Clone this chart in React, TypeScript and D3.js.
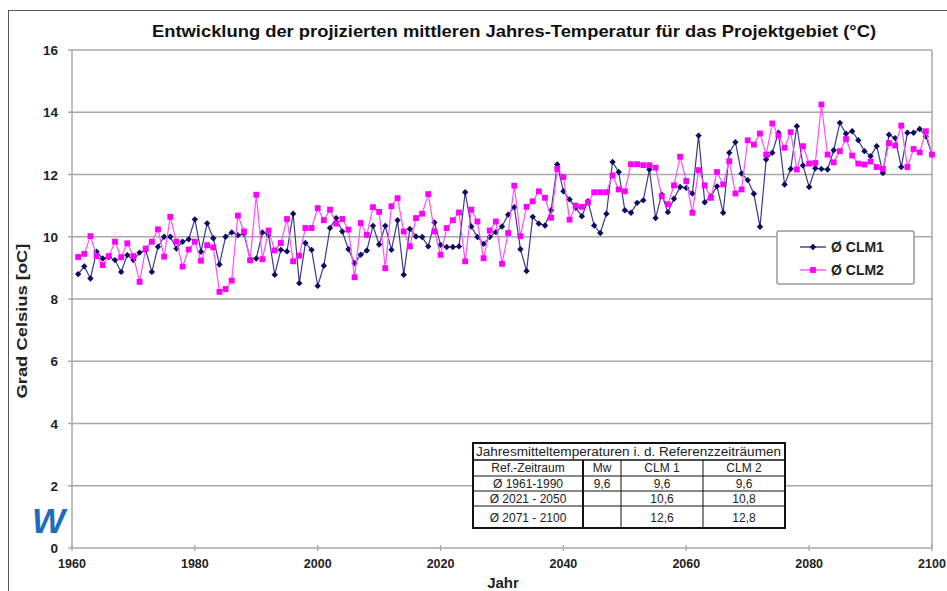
import React from 'react';
import * as d3 from 'd3';

const W = 947;
const H = 591;

const chartTitle = 'Entwicklung der projizierten mittleren Jahres-Temperatur für das Projektgebiet (°C)';
const yTitle = 'Grad Celsius [oC]';
const xTitle = 'Jahr';
const firstYear = 1961;

const clm1: number[] = [
  8.8, 9.05, 8.66, 9.52, 9.3, 9.35, 9.25, 8.87, 9.41, 9.25,
  9.49, 9.57, 8.87, 9.68, 10.0, 10.0, 9.62, 9.84, 9.92, 10.56,
  9.52, 10.43, 9.95, 9.11, 10.0, 10.14, 10.05, 10.1, 9.28, 9.3,
  10.14, 10.06, 8.78, 9.58, 9.53, 10.74, 8.51, 9.8, 9.58, 8.42,
  9.07, 10.28, 10.6, 10.17, 9.6, 9.15, 9.42, 9.56, 10.35, 9.75,
  10.35, 9.58, 10.53, 8.78, 10.25, 10.01, 9.99, 9.69, 10.46, 9.74,
  9.67, 9.67, 9.69, 11.43, 10.33, 9.99, 9.77, 9.99, 10.15, 10.33,
  10.71, 10.95, 9.6, 8.9, 10.64, 10.42, 10.36, 10.85, 12.32, 11.46,
  11.2, 10.93, 10.66, 11.14, 10.36, 10.12, 10.74, 12.4, 12.08, 10.85,
  10.77, 11.09, 11.17, 12.16, 10.6, 11.36, 10.79, 11.22, 11.6, 11.57,
  11.39, 13.25, 11.11, 11.3, 11.62, 10.77, 12.7, 13.04, 12.03, 11.82,
  11.38, 10.32, 12.48, 12.7, 13.34, 11.68, 12.18, 13.55, 12.29, 11.6,
  12.2, 12.18, 12.16, 12.78, 13.66, 13.31, 13.39, 13.1, 12.75, 12.59,
  12.91, 12.05, 13.28, 13.17, 12.24, 13.34, 13.34, 13.46, 13.23, 12.64,
];

const clm2: number[] = [
  9.35, 9.45, 10.02, 9.38, 9.09, 9.38, 9.84, 9.34, 9.79, 9.38,
  8.55, 9.62, 9.84, 10.24, 9.36, 10.64, 9.84, 9.04, 9.59, 9.84,
  9.23, 9.73, 9.66, 8.23, 8.32, 8.59, 10.68, 10.17, 9.24, 11.35,
  9.28, 10.2, 9.56, 9.8, 10.57, 9.21, 9.39, 10.28, 10.28, 10.92,
  10.53, 10.87, 10.42, 10.57, 10.23, 8.7, 10.44, 10.06, 10.95, 10.8,
  8.99, 10.98, 11.24, 10.17, 9.69, 10.6, 10.74, 11.37, 10.17, 9.42,
  10.28, 10.53, 10.78, 9.21, 10.87, 10.49, 9.31, 10.2, 10.49, 9.13,
  10.12, 11.64, 10.02, 10.96, 11.14, 11.46, 11.25, 10.61, 12.18, 11.92,
  10.55, 11.0, 10.96, 11.1, 11.43, 11.43, 11.43, 11.97, 11.52, 11.46,
  12.33, 12.33, 12.3, 12.3, 12.22, 11.3, 11.04, 11.65, 12.57, 11.79,
  10.77, 12.14, 11.65, 11.25, 12.08, 11.68, 12.43, 11.39, 11.52, 13.1,
  12.96, 13.32, 12.64, 13.64, 13.25, 12.86, 13.36, 12.16, 12.91, 12.35,
  12.37, 14.25, 12.64, 12.39, 12.75, 13.14, 12.61, 12.35, 12.32, 12.42,
  12.24, 12.18, 13.01, 12.93, 13.57, 12.24, 12.82, 12.71, 13.39, 12.64,
];

const seriesNames = ['Ø CLM1', 'Ø CLM2'];
const yTicks = [0, 2, 4, 6, 8, 10, 12, 14, 16];
const xTicks = [1960, 1980, 2000, 2020, 2040, 2060, 2080, 2100];

const tableHeader = 'Jahresmitteltemperaturen i. d. Referenzzeiträumen';
const tableCols = ['Ref.-Zeitraum', 'Mw', 'CLM 1', 'CLM 2'];
const tableRows = [
  ['Ø 1961-1990', '9,6', '9,6', '9,6'],
  ['Ø 2021 - 2050', '', '10,6', '10,8'],
  ['Ø 2071 - 2100', '', '12,6', '12,8'],
];

const FONT = 'Liberation Sans, Arial, Helvetica, sans-serif';
const NAVY = '#0c0c60';
const NAVY_LINE = '#3a3a88';
const MAG = '#ff00ff';
const MAG_LINE = '#ff4dff';
const GRID = '#a8a8a8';

export default function App() {
  const x = d3.scaleLinear().domain([1960, 2100]).range([72, 932]);
  const y = d3.scaleLinear().domain([0, 16]).range([548, 50]);

  const toPts = (arr: number[]) => arr.map((v, i) => [firstYear + i, v] as [number, number]);
  const line = d3.line<[number, number]>().x((d) => x(d[0])).y((d) => y(d[1]));
  const diamond = d3.symbol().type(d3.symbolDiamond2).size(26)() as string;
  const square = d3.symbol().type(d3.symbolSquare).size(34)() as string;

  const p1 = toPts(clm1);
  const p2 = toPts(clm2);

  const colX = [473, 583, 621, 703, 785];
  const rowY = [443, 460, 476, 491, 506, 528];

  return (
    <svg width={W} height={H} style={{ position: 'absolute', left: 0, top: 0, background: '#fff' }} fontFamily={FONT}>
      <rect x={0} y={0} width={W} height={H} fill="#fff" />
      <rect x={8.5} y={10.5} width={W + 10} height={H + 10} fill="none" stroke="#555" strokeWidth={1} />

      <text x={514} y={37} textAnchor="middle" fontSize={17} fontWeight="bold" fill="#111" textLength={724} lengthAdjust="spacingAndGlyphs">{chartTitle}</text>

      {/* grid */}
      {yTicks.map((t) => (
        <g key={'gy' + t}>
          <line x1={x(1960) - 4} x2={x(2100)} y1={y(t)} y2={y(t)} stroke={GRID} strokeWidth={1.3} />
          <text x={58} y={y(t) + 5} textAnchor="end" fontSize={13.5} fontWeight="bold" fill="#222">{t}</text>
        </g>
      ))}
      <line x1={x(1960)} x2={x(1960)} y1={y(16)} y2={y(0)} stroke={GRID} strokeWidth={1.5} />
      <line x1={x(2100)} x2={x(2100)} y1={y(16)} y2={y(0)} stroke={GRID} strokeWidth={1.5} />
      {xTicks.map((t) => (
        <g key={'gx' + t}>
          <line x1={x(t)} x2={x(t)} y1={y(0) - 3} y2={y(0) + 3} stroke={GRID} strokeWidth={1.3} />
          <text x={x(t)} y={y(0) + 20} textAnchor="middle" fontSize={12.5} fontWeight="bold" fill="#222">{t}</text>
        </g>
      ))}

      <text transform={`translate(27,${321}) rotate(-90)`} textAnchor="middle" fontSize={15.5} fontWeight="bold" fill="#222" textLength={155} lengthAdjust="spacingAndGlyphs">{yTitle}</text>
      <text x={503} y={588} textAnchor="middle" fontSize={15} fontWeight="bold" fill="#222">{xTitle}</text>

      {/* logo */}
      <text x={32} y={533} fontSize={35} fontWeight="bold" fontStyle="italic" fill="#1d6db8">W</text>

      {/* table */}
      <g fontSize={12} fill="#222">
        <rect x={colX[0]} y={rowY[0]} width={colX[4] - colX[0]} height={rowY[5] - rowY[0]} fill="#fff" stroke="#111" strokeWidth={2} />
        {rowY.slice(1, 5).map((ry, i) => (
          <line key={'tr' + i} x1={colX[0]} x2={colX[4]} y1={ry} y2={ry} stroke="#111" strokeWidth={i === 0 ? 1.5 : 1} />
        ))}
        {colX.slice(1, 4).map((cx, i) => (
          <line key={'tc' + i} x1={cx} x2={cx} y1={rowY[1]} y2={rowY[5]} stroke="#111" strokeWidth={i === 0 ? 2 : 1} />
        ))}
        <text x={colX[0] + 3} y={rowY[0] + 12.5} fontSize={12} fill="#222" textLength={305} lengthAdjust="spacingAndGlyphs">{tableHeader}</text>
        {tableCols.map((c, j) => (
          <text key={'th' + j} x={(colX[j] + colX[j + 1]) / 2} y={rowY[1] + 12} textAnchor="middle">{c}</text>
        ))}
        {tableRows.map((r, i) =>
          r.map((c, j) => (
            <text key={'td' + i + j} x={(colX[j] + colX[j + 1]) / 2} y={(rowY[i + 2] + rowY[i + 3]) / 2 + 4.5} textAnchor="middle">{c}</text>
          ))
        )}
      </g>

      {/* series */}
      <path d={line(p1) as string} fill="none" stroke={NAVY_LINE} strokeWidth={1.2} />
      {p1.map((d, i) => (
        <path key={'m1' + i} d={diamond} transform={`translate(${x(d[0])},${y(d[1])})`} fill={NAVY} />
      ))}
      <path d={line(p2) as string} fill="none" stroke={MAG_LINE} strokeWidth={1.2} />
      {p2.map((d, i) => (
        <path key={'m2' + i} d={square} transform={`translate(${x(d[0])},${y(d[1])})`} fill={MAG} />
      ))}

      {/* legend */}
      <g>
        <rect x={777} y={231} width={137} height={53} fill="#fff" stroke="#9a9a9a" strokeWidth={1.5} rx={2} />
        <line x1={800} x2={826} y1={247} y2={247} stroke={NAVY_LINE} strokeWidth={1.4} />
        <path d={diamond} transform="translate(813,247)" fill={NAVY} />
        <text x={831} y={252} fontSize={14} fontWeight="bold" fill="#222">{seriesNames[0]}</text>
        <line x1={800} x2={826} y1={270} y2={270} stroke={MAG_LINE} strokeWidth={1.4} />
        <path d={square} transform="translate(813,270)" fill={MAG} />
        <text x={831} y={275} fontSize={14} fontWeight="bold" fill="#222">{seriesNames[1]}</text>
      </g>
    </svg>
  );
}
